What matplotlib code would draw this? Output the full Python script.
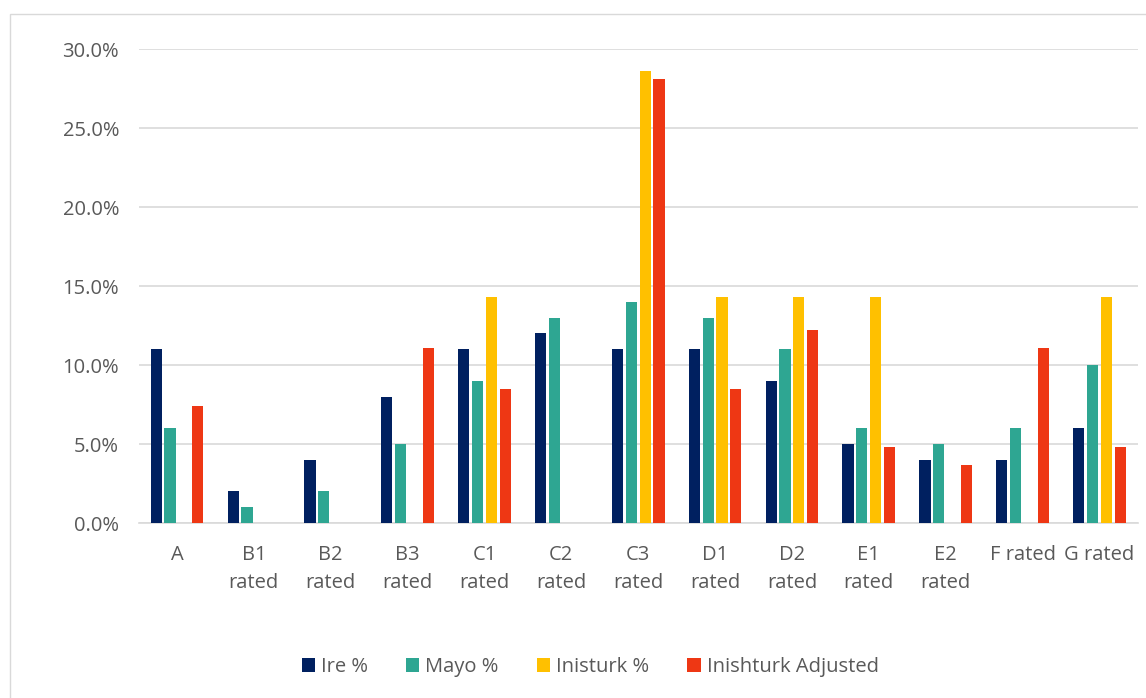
import numpy as np
import matplotlib.pyplot as plt
from matplotlib.patches import Rectangle

# categories and series (percent)
categories = ['A', 'B1\nrated', 'B2\nrated', 'B3\nrated', 'C1\nrated', 'C2\nrated', 'C3\nrated',
              'D1\nrated', 'D2\nrated', 'E1\nrated', 'E2\nrated', 'F rated', 'G rated']
ire = [11, 2, 4, 8, 11, 12, 11, 11, 9, 5, 4, 4, 6]
mayo = [6, 1, 2, 5, 9, 13, 14, 13, 11, 6, 5, 6, 10]
inisturk = [0, 0, 0, 0, 14.3, 0, 28.6, 14.3, 14.3, 14.3, 0, 0, 14.3]
inishturk_adj = [7.4, 0, 0, 11.1, 8.5, 0, 28.1, 8.5, 12.2, 4.8, 3.7, 11.1, 4.8]

series = [ire, mayo, inisturk, inishturk_adj]
names = ['Ire %', 'Mayo %', 'Inisturk %', 'Inishturk Adjusted']
colors = ['#002060', '#2EA692', '#FFC000', '#EE3714']

plt.rcParams['font.family'] = ['Open Sans', 'DejaVu Sans']

fig = plt.figure(figsize=(11.46, 6.98), dpi=100)
ax = fig.add_axes([0.1209, 0.2507, 0.872, 0.679])

x = np.arange(len(categories))
slot = 0.18
bw = 0.145
for i, (vals, name, c) in enumerate(zip(series, names, colors)):
    ax.bar(x + (i - 1.5) * slot, vals, bw, color=c, label=name, zorder=3)

ax.set_xlim(-0.5, len(categories) - 0.5)
ax.set_ylim(0, 30)
ax.set_yticks(np.arange(0, 31, 5))
ax.set_yticklabels([f'{v:.1f}%' for v in np.arange(0, 31, 5)])
ax.set_xticks(x)
ax.set_xticklabels(categories, linespacing=1.55)
ax.tick_params(axis='both', length=0, labelsize=14.5, colors='#595959')
ax.tick_params(axis='x', pad=16)
ax.tick_params(axis='y', pad=14)
ax.grid(axis='y', color='#D9D9D9', linewidth=1.2, zorder=0)
for s in ['top', 'right', 'left']:
    ax.spines[s].set_visible(False)
ax.spines['bottom'].set_color('#D9D9D9')
ax.spines['bottom'].set_linewidth(1.2)

leg = fig.legend(loc='center', bbox_to_anchor=(0.515, 0.044), ncol=4, frameon=False,
                 fontsize=14.5, handlelength=0.65, handleheight=0.65, handletextpad=0.3,
                 columnspacing=1.9)
for t in leg.get_texts():
    t.set_color('#595959')

# chart border
fig.patches.append(Rectangle((0.009, -0.01), 1.0, 0.99, transform=fig.transFigure,
                             fill=False, edgecolor='#D9D9D9', linewidth=1))

fig.savefig('out.png', dpi=100)
